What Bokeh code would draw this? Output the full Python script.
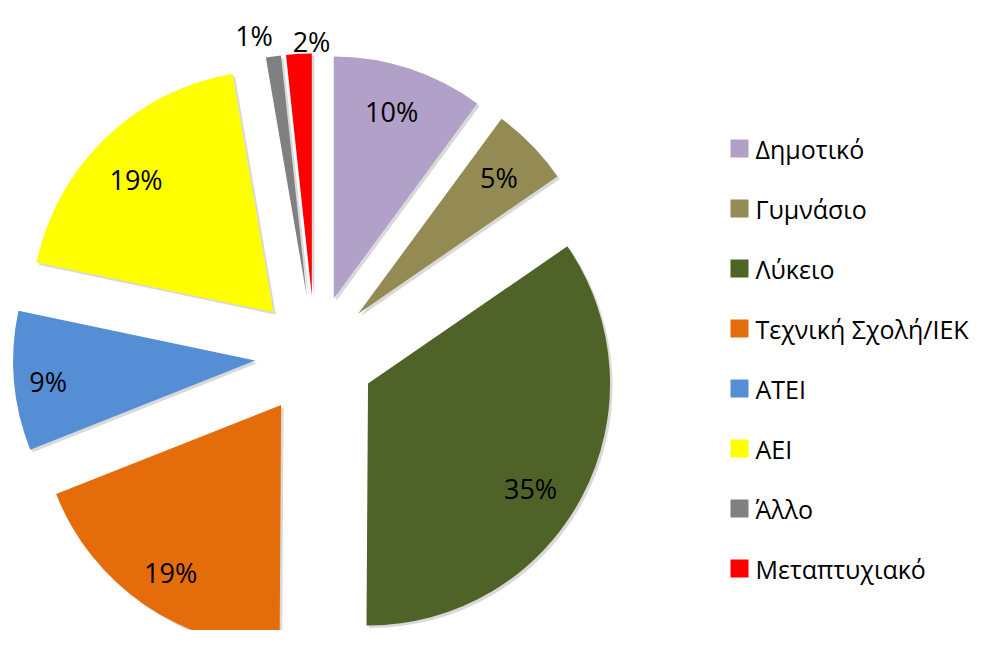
import numpy as np
from bokeh.plotting import figure
from bokeh.models import Range1d, ColumnDataSource
from bokeh.core.properties import value
from bokeh.embed import file_html
from bokeh.resources import INLINE

# ---- data ----
categories = ["Δημοτικό", "Γυμνάσιο", "Λύκειο", "Τεχνική Σχολή/ΙΕΚ",
              "ΑΤΕΙ", "ΑΕΙ", "Άλλο", "Μεταπτυχιακό"]
shares = [10.1, 5.3, 34.7, 18.9, 9.3, 19.0, 1.0, 1.7]
colors = ["#B1A0C7", "#948A54", "#4F6228", "#E46C0A",
          "#558ED5", "#FFFF00", "#808080", "#FF0000"]

# ---- label placement styles (relative to each slice) ----
label_rfac = [0.81, 0.81, 0.80, 0.83, 0.86, 0.79, 1.10, 1.05]
label_dang = [-1, 0, 5, -1, -1, -2, -3.5, 3]

W, H = 977, 630
FONT = "Open Sans"
cx, cy = 314.5, H - 355.0
R = 242.0
EXPLODE = 60.0

vals = np.array(shares, dtype=float)
frac = vals / vals.sum()
cum = np.concatenate([[0], np.cumsum(frac)]) * 360.0  # clockwise from 12 o'clock
t1, t2 = cum[:-1], cum[1:]
mid = (t1 + t2) / 2
start = np.radians(90 - t2)
end = np.radians(90 - t1)
mid_math = np.radians(90 - mid)
tipx = cx + EXPLODE * np.cos(mid_math)
tipy = cy + EXPLODE * np.sin(mid_math)

lab_ang = np.radians(90 - (mid + np.array(label_dang)))
labx = tipx + R * np.array(label_rfac) * np.cos(lab_ang)
laby = tipy + R * np.array(label_rfac) * np.sin(lab_ang)
pct = [f"{round(v)}%" for v in vals / vals.sum() * 100]

src = ColumnDataSource(dict(x=tipx, y=tipy, sx=tipx + 2.5, sy=tipy - 2.5,
                            start=start, end=end, color=colors,
                            labx=labx, laby=laby, pct=pct, cat=categories))

p = figure(width=W, height=H, output_backend="svg", toolbar_location=None,
           x_range=Range1d(0, W), y_range=Range1d(0, H), min_border=0)
p.axis.visible = False
p.grid.visible = False
p.outline_line_color = None
p.background_fill_color = "white"
p.border_fill_color = "white"

# soft shadow
p.wedge(x="sx", y="sy", radius=R, start_angle="start", end_angle="end",
        source=src, fill_color="#000000", fill_alpha=0.15, line_color=None)
p.wedge(x="x", y="y", radius=R, start_angle="start", end_angle="end",
        source=src, fill_color="color", line_color=None)

p.text(x="labx", y="laby", text="pct", source=src, text_align="center",
       text_baseline="middle", text_font=value(FONT), text_font_size="27px",
       text_color="black")

# legend
n = len(categories)
leg_y = (H - 148) - 60 * np.arange(n)
leg_src = ColumnDataSource(dict(x=np.full(n, 739.0), y=leg_y, tx=np.full(n, 755.0),
                                color=colors, cat=categories))
p.rect(x="x", y="y", width=18, height=18, source=leg_src, fill_color="color",
       line_color=None)
p.text(x="tx", y="y", text="cat", source=leg_src, text_align="left",
       text_baseline="middle", text_font=value(FONT), text_font_size="25px",
       text_color="black")

open("out.html", "w").write(file_html(p, INLINE))
